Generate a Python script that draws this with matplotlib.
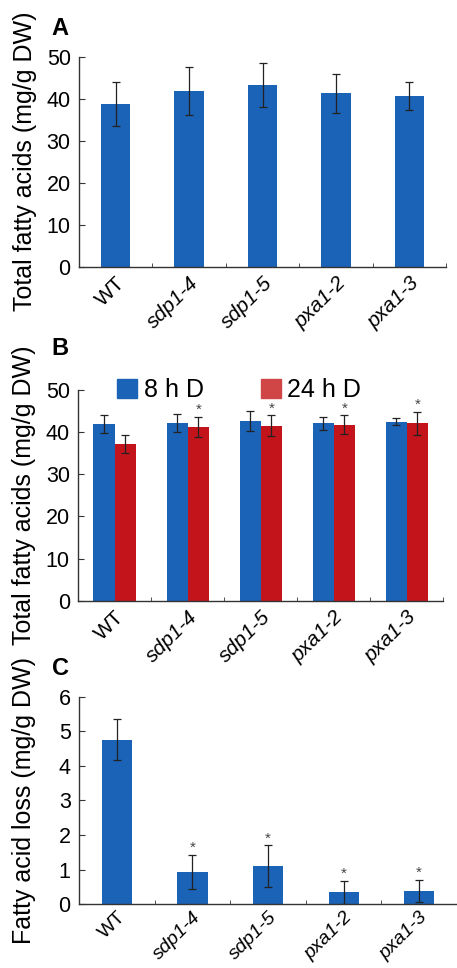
import numpy as np
import matplotlib
matplotlib.use("Agg")
import matplotlib.pyplot as plt
from matplotlib.patches import Patch

plt.rcParams['font.family'] = ['Liberation Sans', 'DejaVu Sans']

lines = ['WT', 'sdp1-4', 'sdp1-5', 'pxa1-2', 'pxa1-3']

# panel A: total fatty acids
tfa = [38.7, 41.9, 43.3, 41.3, 40.6]
tfa_err = [5.3, 5.7, 5.3, 4.7, 3.4]

# panel B: 8 h vs 24 h dark
tfa_8h = [41.9, 42.2, 42.6, 42.1, 42.5]
tfa_8h_err = [2.1, 2.2, 2.4, 1.6, 0.9]
tfa_24h = [37.2, 41.3, 41.5, 41.8, 42.1]
tfa_24h_err = [2.1, 2.4, 2.5, 2.2, 2.7]
star_24h = [False, True, True, True, True]

# panel C: fatty acid loss
loss = [4.76, 0.93, 1.10, 0.34, 0.38]
loss_err = [0.60, 0.50, 0.60, 0.33, 0.31]
star_loss = [False, True, True, True, True]

blue = '#1b63b6'
red = '#c4141b'
axcol = '#333333'

fig = plt.figure(figsize=(4.57, 9.68), dpi=100)
axA = fig.add_axes([0.173, 0.7245, 0.803, 0.2169])
axB = fig.add_axes([0.171, 0.3794, 0.799, 0.2177])
axC = fig.add_axes([0.173, 0.0660, 0.827, 0.2143])

x = np.arange(len(lines))
ekw = dict(ecolor='#222222', elinewidth=0.9, capsize=3, capthick=0.9)


def style(ax, ymax, step, ylabel, xfs=15, xpad=5):
    ax.set_xlim(-0.5, len(lines) - 0.5)
    ax.set_ylim(0, ymax)
    ax.set_yticks(np.arange(0, ymax + step / 2, step))
    ax.set_xticks(x)
    ax.set_xticklabels(lines, rotation=45, ha='right', rotation_mode='anchor', fontsize=xfs)
    for lab in ax.get_xticklabels()[1:]:
        lab.set_style('italic')
    ax.tick_params(axis='x', length=0, pad=xpad)
    ax.set_xticks(np.arange(0.5, len(lines) - 0.5 + 0.01, 1), minor=True)
    ax.tick_params(axis='x', which='minor', direction='in', length=3, color=axcol)
    ax.tick_params(axis='y', direction='in', length=4, labelsize=15.5, color=axcol, pad=6)
    for s in ['top', 'right']:
        ax.spines[s].set_visible(False)
    for s in ['left', 'bottom']:
        ax.spines[s].set_color(axcol)
        ax.spines[s].set_linewidth(1.0)
    ax.set_ylabel(ylabel, fontsize=18)
    ax.yaxis.set_label_coords(-0.115, 0.5)


def stars(ax, xs, tops, flags, off):
    for xi, t, f in zip(xs, tops, flags):
        if f:
            ax.annotate('*', xy=(xi, t), xytext=(0, off), textcoords='offset points',
                        ha='center', va='bottom', fontsize=11, color='#444444')


# A
axA.bar(x, tfa, 0.4, color=blue, yerr=tfa_err, error_kw=ekw)
style(axA, 50, 10, 'Total fatty acids (mg/g DW)')

# B
w = 0.29
axB.bar(x - w / 2, tfa_8h, w, color=blue, yerr=tfa_8h_err, error_kw=ekw)
axB.bar(x + w / 2, tfa_24h, w, color=red, yerr=tfa_24h_err, error_kw=ekw)
style(axB, 50, 10, 'Total fatty acids (mg/g DW)')
tops = [v + e for v, e in zip(tfa_24h, tfa_24h_err)]
stars(axB, x + w / 2, tops, star_24h, 0)
handles = [Patch(color=blue), Patch(color='#d04646')]
axB.legend(handles, ['8 h D', '24 h D'], ncol=2, frameon=False, fontsize=18,
           loc='center left', bbox_to_anchor=(0.08, 1.0), handlelength=0.8,
           handleheight=0.8, handletextpad=0.25, columnspacing=2.3, borderaxespad=0)

# C
axC.bar(x, loss, 0.4, color=blue, yerr=loss_err, error_kw=ekw)
style(axC, 6, 1, 'Fatty acid loss (mg/g DW)', xfs=14, xpad=3)
tops = [v + e for v, e in zip(loss, loss_err)]
stars(axC, x, tops, star_loss, 0)

for lbl, yy in [('A', 0.971), ('B', 0.640), ('C', 0.309)]:
    fig.text(0.113, yy, lbl, fontsize=17, fontweight='bold', ha='left', va='center')

fig.savefig('out.png', dpi=100)
